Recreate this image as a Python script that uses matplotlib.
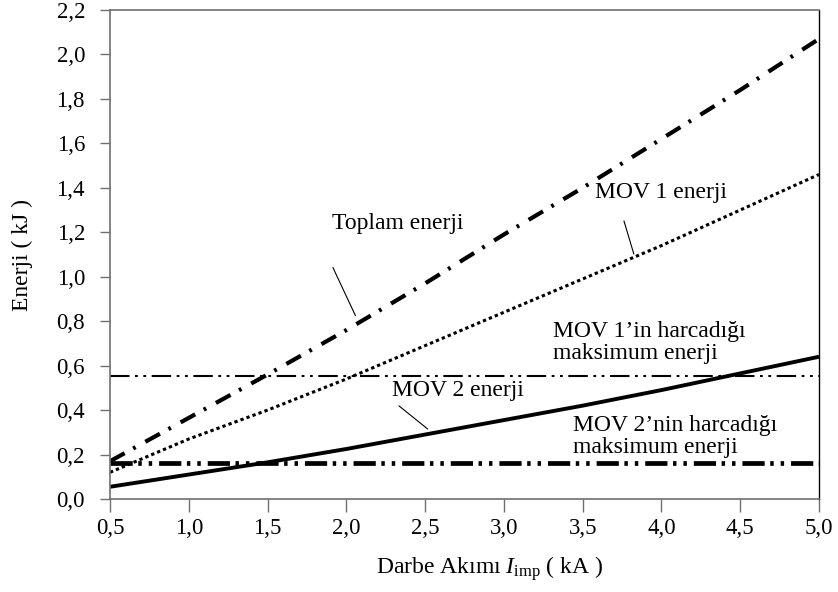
# MOV enerji grafigi - darbe akimina gore enerji dagilimi
# degerler, tahmini

import matplotlib
matplotlib.use("Agg")
import matplotlib.pyplot as plt
from matplotlib.ticker import FuncFormatter

# darbe akimi (kA)
akim = [0.5, 1.0, 1.5, 2.0, 2.5, 3.0, 3.5, 4.0, 4.5, 5.0]

# enerjiler (kJ)
toplam_enerji = [0.17, 0.365, 0.56, 0.76, 0.97, 1.19, 1.40, 1.62, 1.84, 2.07]
mov1_enerji = [0.12, 0.27, 0.40, 0.54, 0.69, 0.84, 0.99, 1.14, 1.30, 1.46]
mov2_enerji = [0.055, 0.11, 0.165, 0.225, 0.29, 0.355, 0.42, 0.49, 0.565, 0.64]

# MOV'larin harcayabildigi maksimum enerji
mov1_maks = 0.555
mov2_maks = 0.16

x_ticks = [0.5, 1.0, 1.5, 2.0, 2.5, 3.0, 3.5, 4.0, 4.5, 5.0]
y_ticks = [0.0, 0.2, 0.4, 0.6, 0.8, 1.0, 1.2, 1.4, 1.6, 1.8, 2.0, 2.2]

plt.rcParams["font.family"] = ["Liberation Serif", "DejaVu Serif"]
plt.rcParams["mathtext.fontset"] = "custom"
plt.rcParams["mathtext.rm"] = "Liberation Serif"
plt.rcParams["mathtext.it"] = "Liberation Serif:italic"
plt.rcParams["lines.scale_dashes"] = False

GRI = "#707070"


def virgul(v, pos):
    # turkce ondalik ayrac
    return f"{v:.1f}".replace(".", ",")


fig = plt.figure(figsize=(8.38, 5.92), dpi=100)
ax = fig.add_axes([0.1313, 0.1571, 0.846, 0.826])

# egriler
ax.plot(akim, toplam_enerji, color="black", lw=3.0,
        dashes=(12, 7, 2, 8), dash_capstyle="butt")
ax.plot(akim, mov1_enerji, color="black", lw=2.2,
        dashes=(2.4, 2.2), dash_capstyle="butt")
ax.plot(akim, mov2_enerji, color="black", lw=2.8, solid_capstyle="butt")

# maksimum enerji cizgileri
ax.axhline(mov1_maks, color="black", lw=1.5,
           dashes=(14, 4, 2, 4, 2, 4), dash_capstyle="butt")
ax.axhline(mov2_maks, color="black", lw=3.4,
           dashes=(16, 4, 2.5, 5, 2.5, 5), dash_capstyle="butt")

# etiketler ve gosterge cizgileri
yazi = 17
ax.text(1.91, 1.24, "Toplam enerji", fontsize=yazi, ha="left", va="center")
ax.annotate("", xy=(2.065, 0.814), xytext=(1.907, 1.053),
            arrowprops=dict(arrowstyle="-", lw=0.8, color="black"))

ax.text(3.58, 1.377, "MOV 1 enerji", fontsize=yazi, ha="left", va="center")
ax.annotate("", xy=(3.83, 1.09), xytext=(3.757, 1.263),
            arrowprops=dict(arrowstyle="-", lw=0.8, color="black"))

ax.text(3.31, 0.704, "MOV 1\u2019in harcad\u0131\u011f\u0131\nmaksimum enerji",
        fontsize=yazi, ha="left", va="center", linespacing=1.05)

ax.text(2.29, 0.49, "MOV 2 enerji", fontsize=yazi, ha="left", va="center")
ax.annotate("", xy=(2.53, 0.307), xytext=(2.32, 0.427),
            arrowprops=dict(arrowstyle="-", lw=0.8, color="black"))

ax.text(3.436, 0.28, "MOV 2\u2019nin harcad\u0131\u011f\u0131\nmaksimum enerji",
        fontsize=yazi, ha="left", va="center", linespacing=1.05)

# eksenler
ax.set_xlim(0.5, 5.0)
ax.set_ylim(0.0, 2.2)
ax.set_xticks(x_ticks)
ax.set_yticks(y_ticks)
ax.xaxis.set_major_formatter(FuncFormatter(virgul))
ax.yaxis.set_major_formatter(FuncFormatter(virgul))
ax.tick_params(axis="x", direction="out", length=9, width=1, color=GRI,
               labelsize=16.5, pad=5)
ax.tick_params(axis="y", direction="out", length=7, width=1, color=GRI,
               labelsize=16.5, pad=11)

for s in ["left", "top", "bottom"]:
    ax.spines[s].set_color(GRI)
    ax.spines[s].set_linewidth(1.2)
ax.spines["right"].set_color("black")
ax.spines["right"].set_linewidth(1.0)

ax.set_xlabel("Darbe Ak\u0131m\u0131 $I_{\\mathrm{imp}}$ ( kA )", fontsize=17)
ax.set_ylabel("Enerji ( kJ )", fontsize=17)
# eksen basliklarinin yeri (resimdeki gibi biraz saga kaymis)
ax.xaxis.set_label_coords(0.535, -0.113)
ax.yaxis.set_label_coords(-0.108, 0.5)

fig.savefig("out.png", dpi=100)
